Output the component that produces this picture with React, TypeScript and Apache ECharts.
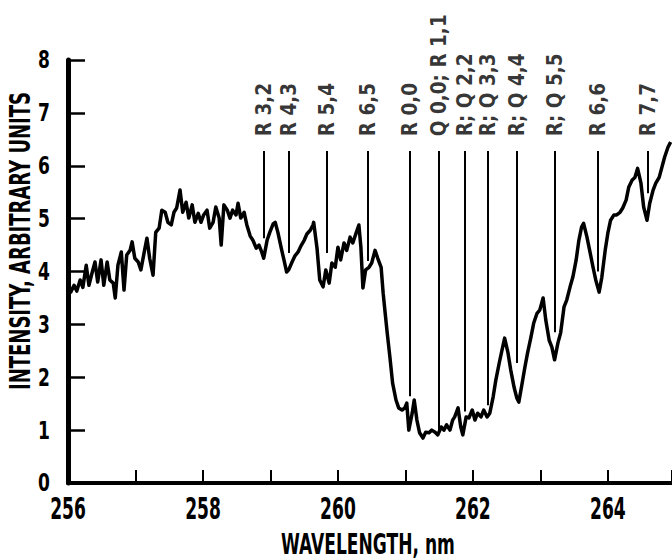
import { useEffect, useRef } from "react";
import * as echarts from "echarts";

// Absorption spectrum: wavelength (nm) vs. intensity (arbitrary units)
const wavelength = [
  256.0, 256.04, 256.09, 256.13, 256.18, 256.22, 256.27, 256.31, 256.36, 256.4,
  256.44, 256.49, 256.53, 256.58, 256.62, 256.67, 256.7, 256.74, 256.79, 256.83,
  256.87, 256.92, 256.95, 256.99, 257.04, 257.08, 257.13, 257.17, 257.21, 257.26,
  257.3, 257.35, 257.39, 257.44, 257.48, 257.53, 257.57, 257.61, 257.66, 257.7,
  257.75, 257.79, 257.84, 257.88, 257.93, 257.97, 258.01, 258.06, 258.1, 258.15,
  258.19, 258.24, 258.27, 258.31, 258.36, 258.4, 258.44, 258.49, 258.52, 258.56,
  258.61, 258.65, 258.7, 258.74, 258.79, 258.83, 258.87, 258.9, 258.95, 258.99,
  259.04, 259.07, 259.11, 259.16, 259.2, 259.24, 259.27, 259.32, 259.36, 259.41,
  259.45, 259.5, 259.54, 259.59, 259.63, 259.64, 259.69, 259.73, 259.78, 259.82,
  259.87, 259.91, 259.96, 260.0, 260.04, 260.09, 260.13, 260.18, 260.22, 260.27,
  260.31, 260.34, 260.37, 260.41, 260.46, 260.5, 260.55, 260.59, 260.64, 260.67,
  260.7, 260.73, 260.77, 260.81, 260.86, 260.9, 260.95, 260.99, 261.02, 261.05,
  261.1, 261.13, 261.17, 261.21, 261.26, 261.3, 261.35, 261.39, 261.44, 261.48,
  261.53, 261.57, 261.61, 261.66, 261.7, 261.73, 261.78, 261.82, 261.85, 261.9,
  261.94, 261.99, 262.03, 262.07, 262.12, 262.16, 262.21, 262.25, 262.3, 262.34,
  262.39, 262.43, 262.47, 262.52, 262.56, 262.61, 262.65, 262.68, 262.73, 262.77,
  262.81, 262.86, 262.9, 262.95, 262.99, 263.04, 263.08, 263.13, 263.17, 263.21,
  263.26, 263.3, 263.35, 263.39, 263.44, 263.48, 263.53, 263.57, 263.61, 263.64,
  263.69, 263.73, 263.78, 263.82, 263.87, 263.91, 263.96, 264.0, 264.04, 264.09,
  264.13, 264.18, 264.22, 264.27, 264.31, 264.36, 264.4, 264.44, 264.49, 264.53,
  264.58, 264.62, 264.67, 264.71, 264.76, 264.8, 264.84, 264.89, 264.93,
];

const intensity = [
  3.65, 3.61, 3.74, 3.63, 3.84, 3.7, 4.12, 3.74, 3.99, 4.18,
  3.8, 4.22, 3.74, 4.18, 3.84, 3.78, 3.5, 4.12, 4.37, 3.65,
  4.31, 4.4, 4.56, 4.25, 4.18, 4.03, 4.37, 4.63, 4.25, 3.93,
  4.74, 4.82, 5.16, 5.12, 4.93, 4.88, 5.12, 5.2, 5.54, 5.12,
  5.31, 5.01, 5.26, 4.93, 5.1, 4.93, 5.07, 5.16, 4.82, 4.93,
  5.22, 5.01, 4.5, 5.26, 5.16, 5.01, 5.16, 5.07, 5.29, 5.01,
  5.12, 4.88, 4.67, 4.59, 4.44, 4.5, 4.37, 4.25, 4.59, 4.74,
  4.9, 4.93, 4.74, 4.44, 4.22, 3.99, 4.03, 4.18, 4.29, 4.37,
  4.48, 4.59, 4.71, 4.78, 4.88, 4.93, 4.44, 3.84, 3.71, 4.03,
  3.78, 4.16, 4.08, 4.46, 4.22, 4.54, 4.4, 4.65, 4.54, 4.73,
  4.88, 4.46, 3.69, 4.03, 4.08, 4.16, 4.4, 4.25, 4.08, 3.59,
  3.21, 2.84, 2.38, 1.89, 1.57, 1.42, 1.38, 1.42, 1.51, 1.0,
  1.32, 1.57, 1.19, 0.95, 0.85, 0.96, 0.95, 1.0, 0.96, 0.91,
  1.06, 1.0, 1.1, 1.0, 1.19, 1.25, 1.42, 1.06, 0.91, 1.25,
  1.23, 1.38, 1.19, 1.32, 1.25, 1.38, 1.25, 1.32, 1.63, 1.95,
  2.27, 2.51, 2.74, 2.46, 2.14, 1.81, 1.61, 1.53, 1.89, 2.19,
  2.46, 2.76, 3.02, 3.21, 3.27, 3.5, 3.08, 2.7, 2.57, 2.33,
  2.65, 2.84, 3.33, 3.46, 3.71, 3.89, 4.22, 4.59, 4.84, 4.91,
  4.65, 4.4, 4.08, 3.84, 3.61, 3.89, 4.4, 4.73, 4.97, 5.07,
  5.07, 5.12, 5.2, 5.35, 5.6, 5.73, 5.78, 5.95, 5.67, 5.22,
  4.97, 5.29, 5.54, 5.67, 5.78, 5.97, 6.16, 6.35, 6.45,
];

// Band assignments: label, wavelength of the marker, and where its marker meets the trace
const bandLabels = [
  "R 3,2", "R 4,3", "R 5,4", "R 6,5", "R 0,0", "Q 0,0; R 1,1",
  "R; Q 2,2", "R; Q 3,3", "R; Q 4,4", "R; Q 5,5", "R 6,6", "R 7,7",
];
const bandWavelengths = [
  258.9, 259.27, 259.84, 260.44, 261.07, 261.5,
  261.88, 262.22, 262.65, 263.21, 263.85, 264.59,
];
const bandMarkerBottoms = [
  4.63, 4.35, 4.35, 4.2, 1.64, 1.0,
  1.35, 1.47, 2.27, 2.85, 4.0, 5.48,
];
const bandMarkerTop = 6.28;
const bandLabelBase = 6.56;

// Axis tick labels and titles
const xTickLabels = [256, 258, 260, 262, 264];
const yTickLabels = [0, 1, 2, 3, 4, 5, 6, 7, 8];
const xTitle = "WAVELENGTH, nm";
const yTitle = "INTENSITY, ARBITRARY UNITS";

const condensed = "'DejaVu Sans Condensed', 'DejaVu Sans', sans-serif";

export default function App() {
  const ref = useRef<HTMLDivElement>(null);

  useEffect(() => {
    if (!ref.current) return;
    const chart = echarts.init(ref.current, null, { renderer: "svg" });

    const spectrum = wavelength.map((w, i) => [w, intensity[i]]);
    const labelPoints = bandLabels.map((name, i) => ({
      name,
      value: [bandWavelengths[i], bandLabelBase],
    }));
    const markers = bandWavelengths.map((w, i) => [
      { coord: [w, bandMarkerBottoms[i]] },
      { coord: [w, bandMarkerTop] },
    ]);

    chart.setOption({
      animation: false,
      backgroundColor: "#ffffff",
      grid: { left: 68, right: 0, top: 60, bottom: 77 },
      xAxis: {
        type: "value",
        min: 256,
        max: 264.95,
        interval: 1,
        axisLine: { lineStyle: { color: "#000", width: 4 } },
        axisTick: { inside: true, length: 13, lineStyle: { color: "#000", width: 2 } },
        axisLabel: { show: false },
        splitLine: { show: false },
      },
      yAxis: {
        type: "value",
        min: 0,
        max: 8,
        interval: 1,
        axisLine: { show: true, lineStyle: { color: "#000", width: 5 } },
        axisTick: { show: true, inside: true, length: 17, lineStyle: { color: "#000", width: 2.5 } },
        axisLabel: { show: false },
        splitLine: { show: false },
      },
      series: [
        {
          type: "line",
          data: spectrum,
          showSymbol: false,
          lineStyle: { color: "#000", width: 3.5, join: "round" },
          z: 3,
        },
        {
          type: "scatter",
          data: labelPoints,
          symbolSize: 1,
          itemStyle: { color: "rgba(0,0,0,0)" },
          silent: true,
          label: {
            show: true,
            formatter: (p: any) => p.name,
            position: "inside",
            rotate: 90,
            align: "left",
            verticalAlign: "middle",
            fontFamily: condensed,
            fontWeight: "bold",
            fontSize: 20.5,
            color: "#000",
          },
          markLine: {
            silent: true,
            symbol: ["none", "none"],
            label: { show: false },
            lineStyle: { color: "#000", width: 2, type: "solid" },
            data: markers,
          },
          z: 2,
        },
      ],
    });

    // Tall condensed lettering for tick labels and titles, placed on the axes' own scale
    const toPx = (x: number, y: number) =>
      chart.convertToPixel({ gridIndex: 0 }, [x, y]) as number[];
    const [axisX, axisY] = toPx(256, 0);
    const textStyle = (text: string, fontSize: number, align: string, verticalAlign: string) => ({
      text,
      fill: "#000",
      fontFamily: condensed,
      fontWeight: "bold",
      fontSize,
      align,
      verticalAlign,
    });

    const graphics: any[] = [];
    xTickLabels.forEach((v) => {
      const [px] = toPx(v, 0);
      graphics.push({
        type: "text",
        x: px,
        y: axisY + 10,
        scaleY: 1.6,
        style: textStyle(String(v), 19, "center", "top"),
      });
    });
    yTickLabels.forEach((v) => {
      const [, py] = toPx(256, v);
      graphics.push({
        type: "text",
        x: axisX - 18,
        y: py,
        scaleY: 1.3,
        style: textStyle(String(v), 19, "right", "middle"),
      });
    });
    graphics.push({
      type: "text",
      x: 368,
      y: axisY + 47,
      scaleY: 1.5,
      style: textStyle(xTitle, 19, "center", "top"),
    });
    graphics.push({
      type: "text",
      x: 20,
      y: 241,
      rotation: Math.PI / 2,
      scaleY: 1.4,
      style: textStyle(yTitle, 20, "center", "middle"),
    });

    chart.setOption({ graphic: graphics });

    return () => chart.dispose();
  }, []);

  return (
    <div
      ref={ref}
      style={{
        position: "fixed",
        left: 0,
        top: 0,
        width: 672,
        height: 560,
        background: "#fff",
      }}
    />
  );
}
